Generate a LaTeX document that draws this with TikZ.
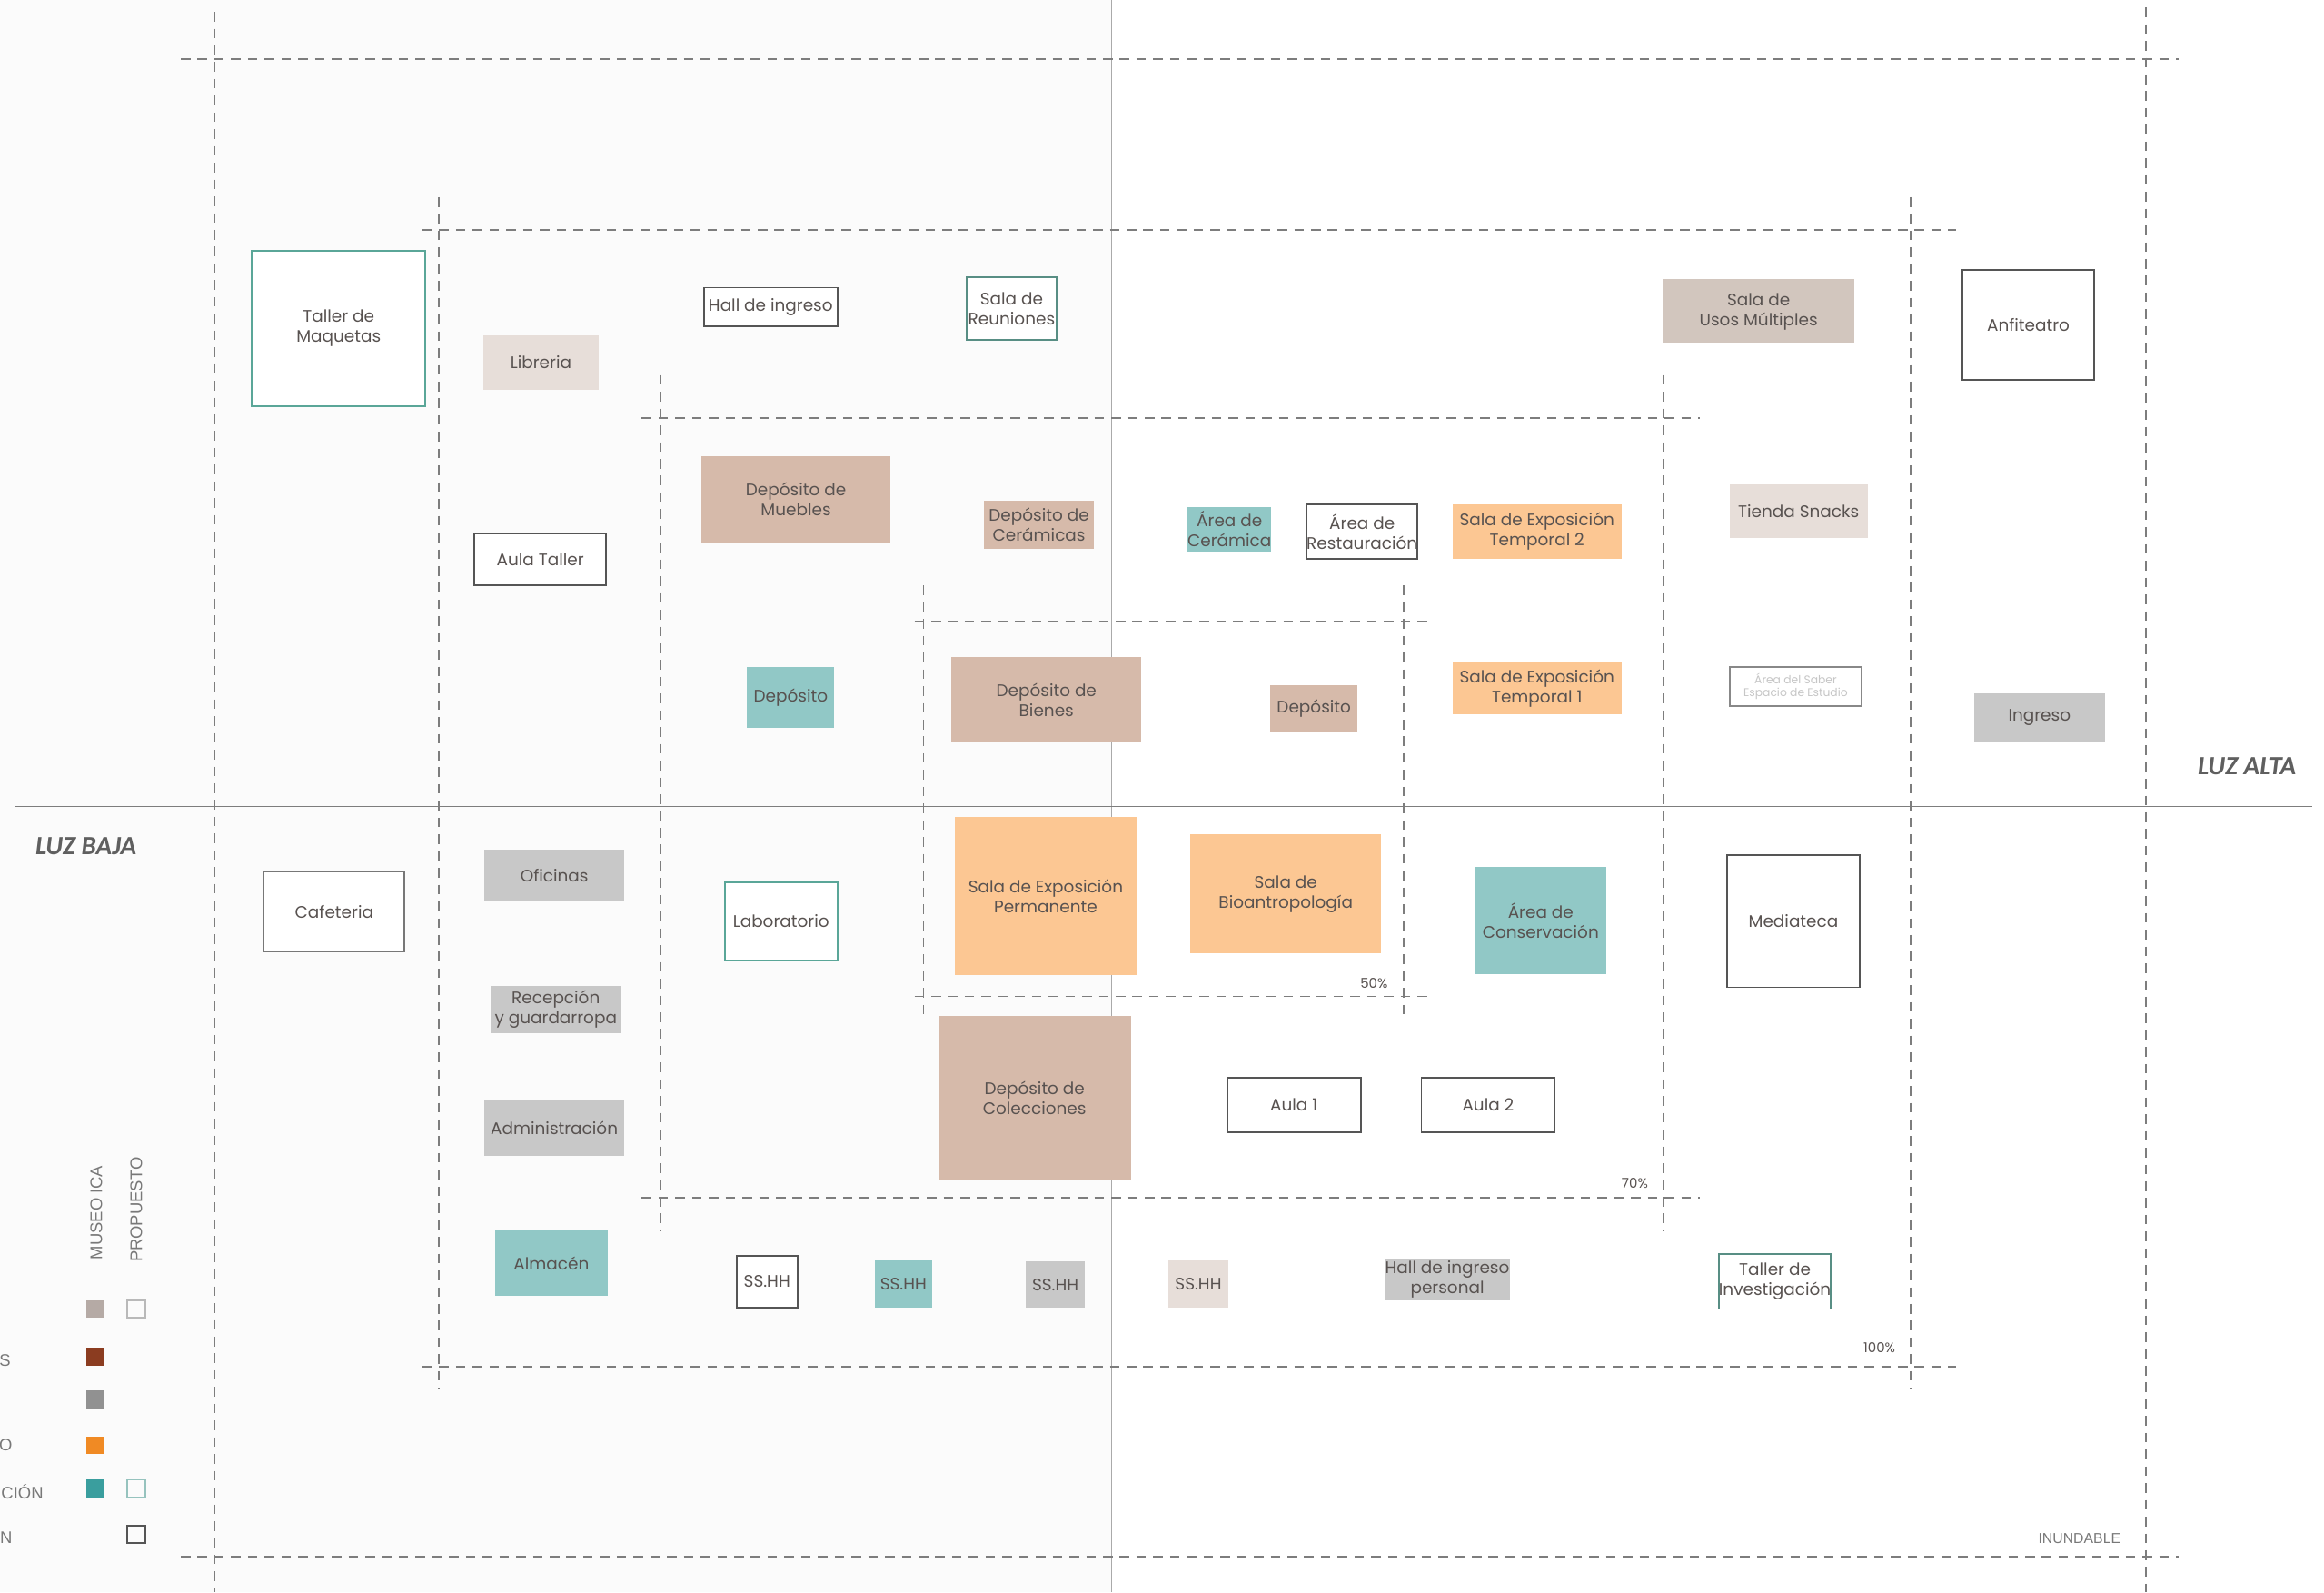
\documentclass[tikz,border=0pt]{standalone}
\usepackage{fontspec}
\setmainfont{Poppins}
\newfontfamily\luzfont{Carlito}
\newfontfamily\legfont{Liberation Sans}
\usetikzlibrary{positioning}
\definecolor{Ink}{RGB}{88,82,80}
\definecolor{Frame}{RGB}{125,125,125}
\definecolor{Page}{RGB}{251,251,251}
\definecolor{Fold}{RGB}{170,170,170}
\definecolor{Taupe}{RGB}{231,222,217}
\definecolor{Sand}{RGB}{210,198,190}
\definecolor{Clay}{RGB}{214,186,170}
\definecolor{Peach}{RGB}{252,199,147}
\definecolor{Sea}{RGB}{145,200,198}
\definecolor{Ash}{RGB}{200,200,200}
\definecolor{Line}{RGB}{85,85,85}
\definecolor{Jade}{RGB}{90,166,152}
\definecolor{LuzGrey}{RGB}{95,95,95}
\definecolor{LegGrey}{RGB}{120,120,120}
\definecolor{MuseoTaupe}{RGB}{181,170,165}
\definecolor{MuseoBrown}{RGB}{139,60,32}
\definecolor{MuseoGrey}{RGB}{145,145,145}
\definecolor{MuseoOrange}{RGB}{240,138,36}
\definecolor{MuseoTeal}{RGB}{58,158,158}
\definecolor{PropGrey}{RGB}{185,185,185}
\definecolor{PropTeal}{RGB}{150,195,190}
\newcommand{\px}{0.032628cm}
\tikzset{
  room/.style={inner sep=0pt,align=center,text=Ink,font=\fontsize{10.5}{12.5}\selectfont},
  shaded/.style={room,fill=#1},
  outlined/.style={room,draw=#1,line width=1.1pt,fill=white},
  sz/.style 2 args={minimum width=#1*\px,minimum height=#2*\px},
  zone/.style={draw=Frame,line width=.9pt,dash pattern=on 6pt off 4.5pt},
  pct/.style={font=\fontsize{8.5}{9}\selectfont,text=Ink},
  luz/.style={font=\luzfont\bfseries\itshape\fontsize{16.5}{18}\selectfont,text=LuzGrey},
  leg/.style={font=\legfont\fontsize{10.5}{11}\selectfont,text=LegGrey},
  swatch/.style={minimum size=12*\px,inner sep=0pt,fill=#1},
  hollow/.style={minimum size=12*\px,inner sep=0pt,draw=#1,line width=1pt}
}

\begin{document}
\begin{tikzpicture}[x=\px,y=-\px]
  \useasboundingbox (0,0) rectangle (1568,1074);
  \fill[white] (0,0) rectangle (1568,1074);
  \fill[Page] (0,0) rectangle (750,1074);
  \draw[Fold,line width=.6pt] (750,0) -- (750,1074);
  \draw[Frame,line width=.7pt] (10,544) -- (1560,544);
  % zonas: inundable, 100%, 70%, 50%
  \draw[zone] (122,40) -- (1470,40);
  \draw[zone] (122,1050) -- (1470,1050);
  \draw[zone] (145,8) -- (145,1074);
  \draw[zone] (1448,5) -- (1448,1074);
  \draw[zone] (285,155) -- (1320,155);
  \draw[zone] (285,922) -- (1320,922);
  \draw[zone] (296,133) -- (296,937);
  \draw[zone] (1289,133) -- (1289,937);
  \draw[zone] (433,282) -- (1147,282);
  \draw[zone] (433,808) -- (1147,808);
  \draw[zone] (446,253) -- (446,830);
  \draw[zone] (1122,253) -- (1122,830);
  \draw[zone] (617,419) -- (965,419);
  \draw[zone] (617,672) -- (965,672);
  \draw[zone] (623,395) -- (623,685);
  \draw[zone] (947,395) -- (947,685);
  \node[pct] (p50) at (927,663) {50\%};
  \node[pct] (p70) at (1103,798) {70\%};
  \node[pct] (p100) at (1268,909) {100\%};
  \node[leg,font=\legfont\fontsize{9}{10}\selectfont] (inund) at (1403,1038) {INUNDABLE};
  \node[luz] (alta) at (1516,517) {LUZ ALTA};
  \node[luz] (baja) at (58,571) {LUZ BAJA};
  % fila superior
  \node[outlined=Jade,sz={117}{105}] (maq) at (228.5,221.5) {Taller de\\Maquetas};
  \node[shaded=Taupe,sz={78}{37}] (lib) at (365,244.5) {Libreria};
  \node[outlined=Line,sz={90}{26}] (hall) at (520,207) {Hall de ingreso};
  \node[outlined=Jade!70!Line,sz={61}{42}] (reun) at (682.5,208) {Sala de\\Reuniones};
  \node[shaded=Sand,sz={129}{44}] (usos) at (1186.5,210) {Sala de\\Usos Múltiples};
  \node[outlined=Line,sz={89}{74}] (anfi) at (1368.5,219) {Anfiteatro};
  % segunda fila
  \node[outlined=Line,sz={89}{35}] (aulat) at (364.5,377.5) {Aula Taller};
  \node[shaded=Clay,sz={128}{58}] (depmue) at (537,337) {Depósito de\\Muebles};
  \node[shaded=Clay,sz={74}{32}] (depcer) at (701,354) {Depósito de\\Cerámicas};
  \node[shaded=Sea,sz={55}{30}] (arcer) at (829.5,357) {Área de\\Cerámica};
  \node[outlined=Line,sz={74}{37}] (arres) at (919,358.5) {Área de\\Restauración};
  \node[shaded=Peach,sz={114}{37}] (temp2) at (1037,358.5) {Sala de Exposición\\Temporal 2};
  \node[shaded=Taupe,sz={93}{36}] (snack) at (1213.5,345) {Tienda Snacks};
  % tercera fila
  \node[shaded=Sea,sz={59}{41}] (dep1) at (533.5,470.5) {Depósito};
  \node[shaded=Clay,sz={128}{58}] (depbie) at (706,472) {Depósito de\\Bienes};
  \node[shaded=Clay,sz={59}{32}] (dep2) at (886.5,478) {Depósito};
  \node[shaded=Peach,sz={114}{35}] (temp1) at (1037,464.5) {Sala de Exposición\\Temporal 1};
  \node[outlined=Line!70,sz={89}{26},text=gray!45,font=\fontsize{7}{8}\selectfont] (saber) at (1211.5,463) {Área del Saber\\Espacio de Estudio};
  \node[shaded=Ash,sz={88}{32}] (ingr) at (1376,484) {Ingreso};
  % luz baja
  \node[outlined=Line!80,sz={95}{54}] (cafe) at (225.5,615) {Cafeteria};
  \node[shaded=Ash,sz={94}{35}] (ofic) at (374,590.5) {Oficinas};
  \node[outlined=Jade,sz={76}{53}] (lab) at (527,621.5) {Laboratorio};
  \node[shaded=Peach,sz={123}{107}] (perm) at (705.5,604.5) {Sala de Exposición\\Permanente};
  \node[shaded=Peach,sz={129}{80}] (bio) at (867.5,603) {Sala de\\Bioantropología};
  \node[shaded=Sea,sz={89}{72}] (cons) at (1039.5,621) {Área de\\Conservación};
  \node[outlined=Line,sz={90}{89}] (media) at (1210,621.5) {Mediateca};
  \node[shaded=Ash,sz={88}{32}] (recep) at (375,681) {Recepción\\y guardarropa};
  \node[shaded=Clay,sz={130}{111}] (colec) at (698,740.5) {Depósito de\\Colecciones};
  \node[outlined=Line,sz={90}{37}] (aula1) at (873,745.5) {Aula 1};
  \node[outlined=Line,sz={90}{37}] (aula2) at (1004,745.5) {Aula 2};
  \node[shaded=Ash,sz={94}{38}] (admin) at (374,761) {Administración};
  % fila inferior
  \node[shaded=Sea,sz={76}{44}] (almac) at (372,852) {Almacén};
  \node[outlined=Line,sz={41}{35}] (ss1) at (517.5,864.5) {SS.HH};
  \node[shaded=Sea,sz={39}{32}] (ss2) at (609.5,866) {SS.HH};
  \node[shaded=Ash,sz={40}{31}] (ss3) at (712,866.5) {SS.HH};
  \node[shaded=Taupe,sz={41}{32}] (ss4) at (808.5,866) {SS.HH};
  \node[shaded=Ash,sz={85}{28}] (hallp) at (976.5,863) {Hall de ingreso\\personal};
  \node[outlined=Jade!70!Line,sz={75}{37}] (tinv) at (1197.5,864.5) {Taller de\\Investigación};
  % leyenda
  \node[leg,rotate=90] (museo) at (65,818) {MUSEO ICA};
  \node[leg,rotate=90] (prop) at (92,816) {PROPUESTO};
  \node[swatch=MuseoTaupe] (m1) at (64,883) {};
  \node[swatch=MuseoBrown] (m2) at (64,915) {};
  \node[swatch=MuseoGrey] (m3) at (64,944) {};
  \node[swatch=MuseoOrange] (m4) at (64,975) {};
  \node[swatch=MuseoTeal] (m5) at (64,1004) {};
  \node[hollow=PropGrey] (n1) at (92,883) {};
  \node[hollow=PropTeal] (n5) at (92,1004) {};
  \node[hollow=Line] (n6) at (92,1035) {};
  \node[leg,anchor=east] (t2) at (11,918) {S};
  \node[leg,anchor=east] (t4) at (12,975) {O};
  \node[leg,anchor=east] (t5) at (33,1006) {CIÓN};
  \node[leg,anchor=east] (t6) at (12,1037) {N};
\end{tikzpicture}
\end{document}
